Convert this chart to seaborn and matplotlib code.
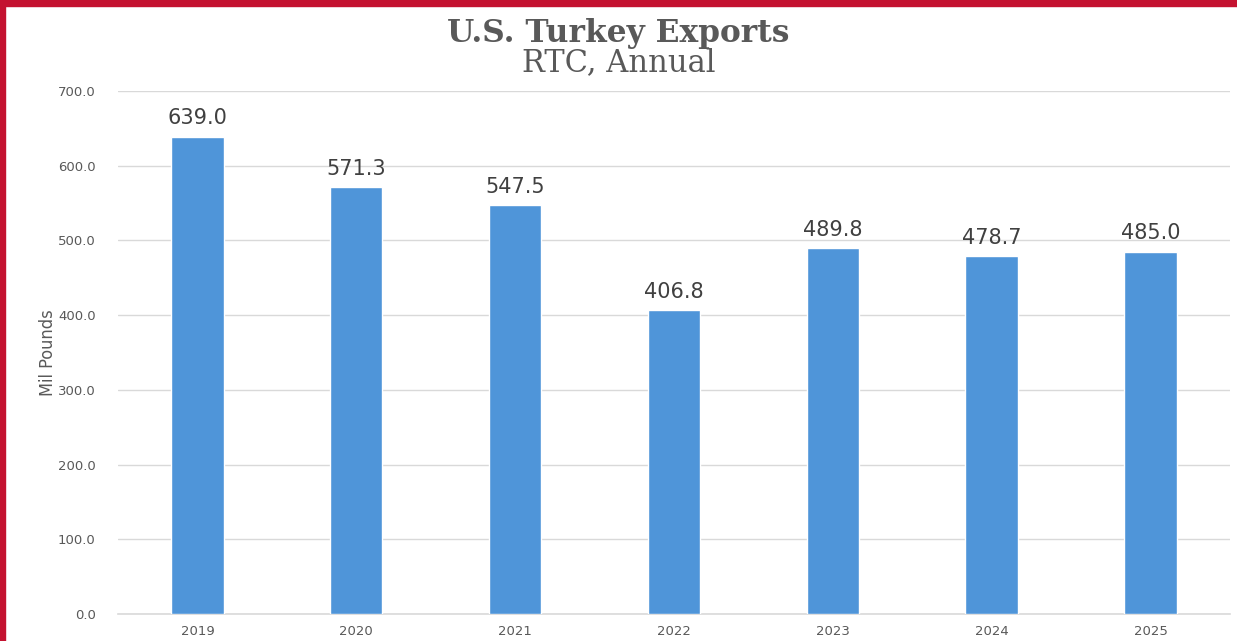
import matplotlib
matplotlib.use("Agg")
import matplotlib.pyplot as plt
import seaborn as sns
import pandas as pd
from matplotlib.patches import Rectangle

years = ["2019", "2020", "2021", "2022", "2023", "2024", "2025"]
exports = [639.0, 571.3, 547.5, 406.8, 489.8, 478.7, 485.0]
yticks = [0, 100, 200, 300, 400, 500, 600, 700]

df = pd.DataFrame({"Year": years, "Exports": exports})

sns.set_theme(style="white")
fig = plt.figure(figsize=(12.37, 6.41), dpi=100)
ax = fig.add_axes([0.0954, 0.0421, 0.8989, 0.8159])

sns.barplot(data=df, x="Year", y="Exports", color="#4F95D9", saturation=1,
            width=0.33, ax=ax, zorder=3)

ax.set_ylim(0, 700)
ax.set_xlim(-0.5, len(years) - 0.5)
ax.set_yticks(yticks)
ax.set_yticklabels([f"{v:.1f}" for v in yticks])
ax.grid(axis="y", color="#D9D9D9", linewidth=1, zorder=0)
for s in ["top", "right", "left"]:
    ax.spines[s].set_visible(False)
ax.spines["bottom"].set_color("#D9D9D9")
ax.spines["bottom"].set_linewidth(1.2)
ax.tick_params(axis="both", length=0, labelsize=9.5, labelcolor="#595959")
ax.tick_params(axis="y", pad=16)
ax.tick_params(axis="x", pad=8)
ax.set_xlabel("")
ax.set_ylabel("Mil Pounds", fontsize=13, color="#595959",
              family="DejaVu Sans", fontstretch="condensed", labelpad=1)

for i, v in enumerate(exports):
    ax.annotate(f"{v:.1f}", (i, v), xytext=(0, 6), textcoords="offset points",
                ha="center", va="bottom", fontsize=15, color="#404040")

fig.text(0.5, 0.948, "U.S. Turkey Exports", ha="center", va="center",
         fontsize=22.5, fontweight="bold", color="#595959",
         family=["DejaVu Serif"])
fig.text(0.5, 0.902, "RTC, Annual", ha="center", va="center",
         fontsize=22, color="#595959",
         family=["DejaVu Serif"])

red = "#C41230"
fig.patches.append(Rectangle((0, 1 - 6/641), 1, 6/641, transform=fig.transFigure,
                             color=red, zorder=10))
fig.patches.append(Rectangle((0, 0), 5/1237, 1, transform=fig.transFigure,
                             color=red, zorder=10))

fig.savefig("out.png", dpi=100)
